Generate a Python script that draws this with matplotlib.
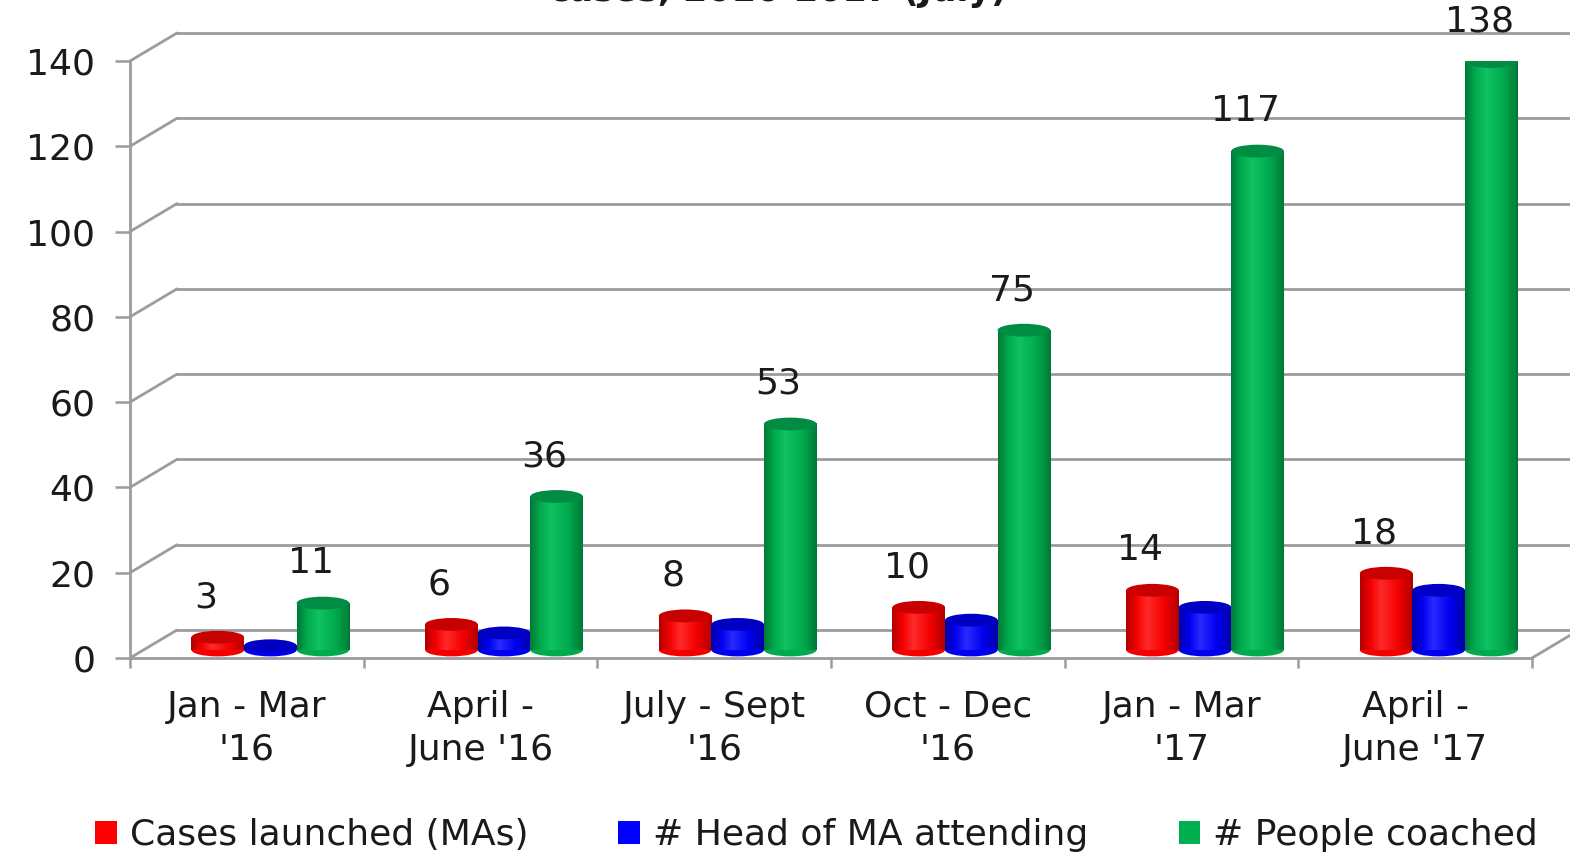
import numpy as np
import matplotlib
matplotlib.use('Agg')
import matplotlib.pyplot as plt
from matplotlib import transforms
from matplotlib.patches import Ellipse, Patch, ConnectionPatch
from matplotlib.colors import LinearSegmentedColormap

# data
categories = ["Jan - Mar\n'16", "April -\nJune '16", "July - Sept\n'16",
              "Oct - Dec\n'16", "Jan - Mar\n'17", "April -\nJune '17"]
cases_launched = [3, 6, 8, 10, 14, 18]
head_attending = [1, 4, 6, 7, 10, 14]
people_coached = [11, 36, 53, 75, 117, 138]
series_names = ['Cases launched (MAs)', '# Head of MA attending', '# People coached']
y_ticks = [0, 20, 40, 60, 80, 100, 120, 140]

series = [cases_launched, head_attending, people_coached]
show_labels = [True, False, True]
# dark edge, body, highlight, top cap, legend colour
palette = [
    ('#b00000', '#f40000', '#ff2a2a', '#c80000', '#ff0000'),
    ('#0000a8', '#0000f0', '#2a2aff', '#0000c4', '#0000ff'),
    ('#007a37', '#00ab4f', '#10c260', '#008c42', '#00b050'),
]
offsets = [-0.18, 0.045, 0.27]
bar_w = 0.225
grid_c = '#9c9c9c'
text_c = '#1a1a1a'
fs = 26

fig = plt.figure(figsize=(15.7, 8.56), dpi=100)
ax = fig.add_axes([130 / 1570, 198 / 856, 1402 / 1570, 597 / 856])
for s in ax.spines.values():
    s.set_visible(False)

# 3D-ish offsets: back wall and bar depth
back = transforms.offset_copy(ax.transData, fig=fig, x=47, y=28, units='dots')
mid = transforms.offset_copy(ax.transData, fig=fig, x=13, y=8, units='dots')

# back wall gridlines + diagonals on left wall
for v in y_ticks:
    ax.plot([0, 6], [v, v], transform=back, color=grid_c, lw=2.0, clip_on=False, zorder=1)
    cp = ConnectionPatch((0, v), (0, v), coordsA=ax.transData, coordsB=back,
                         color=grid_c, lw=2.0, zorder=1)
    cp.set_clip_on(False)
    ax.add_artist(cp)
cp = ConnectionPatch((6, 0), (6, 0), coordsA=ax.transData, coordsB=back,
                     color=grid_c, lw=2.0, zorder=1)
cp.set_clip_on(False)
ax.add_artist(cp)
# front floor edge and left axis
ax.plot([0, 6], [0, 0], color=grid_c, lw=2.0, clip_on=False, zorder=2)
ax.plot([0, 0], [0, 140], color=grid_c, lw=2.0, clip_on=False, zorder=2)

# cylinders
ell_h = 3.0
for i in range(len(categories)):
    for j, vals in enumerate(series):
        v = vals[i]
        dark, body, light, top, _ = palette[j]
        cmap = LinearSegmentedColormap.from_list(
            'c', [(0, dark), (0.2, body), (0.4, light), (0.72, body), (1, dark)])
        xc = i + 0.5 + offsets[j]
        x0, x1 = xc - bar_w / 2, xc + bar_w / 2
        z = 3 + i * 0.1 + j * 0.02
        grad = np.linspace(0, 1, 128).reshape(1, -1)
        ax.add_patch(Ellipse((xc, 0), bar_w, ell_h, transform=mid, fc=body,
                             ec='none', zorder=z))
        ax.imshow(grad, cmap=cmap, extent=(x0, x1, 0, v), transform=mid,
                  aspect='auto', interpolation='bilinear', zorder=z + 0.005)
        ax.add_patch(Ellipse((xc, v), bar_w, ell_h, transform=mid, fc=top,
                             ec='none', zorder=z + 0.01))
        if show_labels[j]:
            ax.annotate(str(v), xy=(xc, v), xycoords=mid, xytext=(-12, 40),
                        textcoords='offset pixels', ha='center', va='center',
                        fontsize=fs, color=text_c, annotation_clip=False)

ax.set_xlim(0, 6)
ax.set_ylim(0, 140)

ax.set_yticks(y_ticks)
ax.tick_params(axis='y', length=11, width=1.8, color=grid_c, pad=14,
               labelsize=fs, labelcolor=text_c)
ax.set_xticks(range(7))
ax.set_xticklabels([''] * 7)
ax.tick_params(axis='x', which='major', length=7.5, width=1.8, color=grid_c)
ax.set_xticks(np.arange(6) + 0.5, minor=True)
ax.set_xticklabels(categories, minor=True, fontsize=fs, color=text_c,
                   linespacing=1.32)
ax.tick_params(axis='x', which='minor', length=0, pad=23)

handles = [Patch(fc=p[4], ec='none') for p in palette]
fig.legend(handles, series_names, loc='center', bbox_to_anchor=(0.52, 1 - 835 / 856),
           ncol=3, frameon=False, fontsize=fs, handlelength=0.6, handleheight=0.6,
           handletextpad=0.36, columnspacing=2.5, labelcolor=text_c)

# title is cut off at the top in the source image
fig.text(778 / 1570, 1 - 1 / 856, 'cases, 2016-2017 (July)', ha='center',
         va='baseline', fontsize=25, fontweight='bold', color=text_c)

fig.savefig('out.png', dpi=100)
